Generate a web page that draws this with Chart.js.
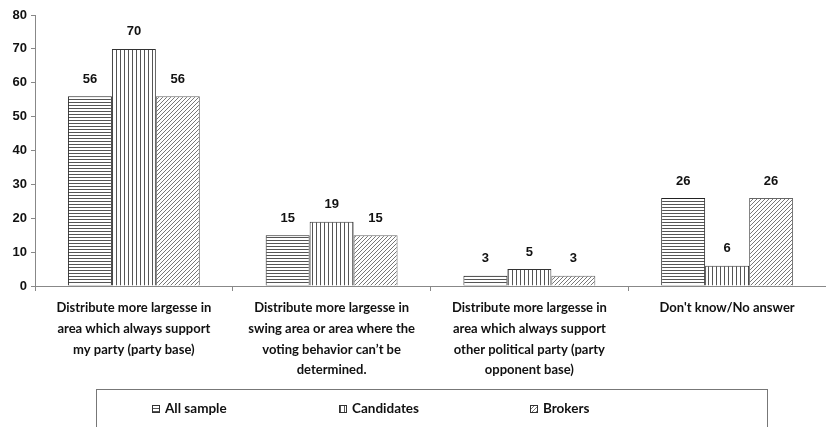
<!DOCTYPE html>
<html>
<head>
<meta charset="utf-8">
<script src="https://cdn.jsdelivr.net/npm/chart.js@4/dist/chart.umd.min.js"></script>
<style>
  html, body { margin: 0; padding: 0; background: #fff; }
  #wrap { width: 826px; height: 427px; position: relative; }
</style>
</head>
<body>
<div id="wrap"><canvas id="c" width="826" height="427"></canvas></div>
<script>
// Answer categories (one line per array entry)
const categories = [
  ["Distribute more largesse in", "area which always support", "my party (party base)"],
  ["Distribute more largesse in", "swing area or area where the", "voting behavior can\u2019t be", "determined."],
  ["Distribute more largesse in", "area which always support", "other political party (party", "opponent base)"],
  ["Don't know/No answer"]
];
const seriesNames = ["All sample", "Candidates", "Brokers"];
const allSample  = [56, 15, 3, 26];
const candidates = [70, 19, 5, 6];
const brokers    = [56, 15, 3, 26];
const yTicks = [0, 10, 20, 30, 40, 50, 60, 70, 80];

// Hatch fills
function makePattern(kind) {
  const t = document.createElement('canvas');
  const ctx = t.getContext('2d');
  if (kind === 'h') {
    t.width = 4; t.height = 3;
    ctx.fillStyle = '#fff'; ctx.fillRect(0, 0, 4, 3);
    ctx.fillStyle = '#555'; ctx.fillRect(0, 0, 4, 1);
  } else if (kind === 'v') {
    t.width = 4; t.height = 4;
    ctx.fillStyle = '#fff'; ctx.fillRect(0, 0, 4, 4);
    ctx.fillStyle = '#555'; ctx.fillRect(0, 0, 1, 4);
  } else {
    t.width = 4; t.height = 4;
    ctx.fillStyle = '#fff'; ctx.fillRect(0, 0, 4, 4);
    ctx.fillStyle = '#777';
    for (let i = 0; i < 4; i++) ctx.fillRect(3 - i, i, 1, 1);
  }
  const main = document.getElementById('c').getContext('2d');
  return main.createPattern(t, 'repeat');
}
const fills = [makePattern('h'), makePattern('v'), makePattern('d')];
const borders = ['#222', '#333', '#666'];

const valueFont = 'bold 13px "Liberation Sans", Arial, sans-serif';
const labelFont = '"Lato", "Open Sans", sans-serif';

// Value labels above each bar
const valueLabels = {
  id: 'valueLabels',
  afterDatasetsDraw(chart) {
    const ctx = chart.ctx;
    ctx.save();
    ctx.font = valueFont;
    ctx.fillStyle = '#111';
    ctx.textAlign = 'center';
    ctx.textBaseline = 'middle';
    chart.data.datasets.forEach((ds, di) => {
      chart.getDatasetMeta(di).data.forEach((bar, i) => {
        ctx.fillText(String(ds.data[i]), bar.x, bar.y - 17);
      });
    });
    ctx.restore();
  }
};

// Boxed legend along the bottom
const boxedLegend = {
  id: 'boxedLegend',
  afterDraw(chart) {
    const ctx = chart.ctx;
    ctx.save();
    ctx.strokeStyle = '#777';
    ctx.lineWidth = 1;
    ctx.strokeRect(96.5, 389.5, 671, 50);
    const itemX = [152, 339, 530];
    ctx.font = 'bold 13.5px ' + labelFont;
    ctx.textBaseline = 'middle';
    ctx.textAlign = 'left';
    chart.data.datasets.forEach((ds, i) => {
      const x = itemX[i], y = 409;
      ctx.fillStyle = fills[i];
      ctx.fillRect(x, y - 4, 8, 8);
      ctx.strokeStyle = '#333';
      ctx.strokeRect(x + 0.5, y - 3.5, 7, 7);
      ctx.fillStyle = '#111';
      ctx.fillText(ds.label, x + 13, y);
    });
    ctx.restore();
  }
};

new Chart(document.getElementById('c'), {
  type: 'bar',
  data: {
    labels: categories,
    datasets: [allSample, candidates, brokers].map((d, i) => ({
      label: seriesNames[i],
      data: d,
      backgroundColor: fills[i],
      borderColor: borders[i],
      borderWidth: 1,
      borderSkipped: 'bottom',
      barPercentage: 1,
      categoryPercentage: 0.667
    }))
  },
  options: {
    responsive: false,
    animation: false,
    layout: { padding: { top: 15, right: 0, left: 0, bottom: 0 } },
    plugins: { legend: { display: false }, tooltip: { enabled: false } },
    scales: {
      x: {
        grid: { display: true, drawOnChartArea: false, offset: true, tickLength: 5, color: '#888' },
        border: { color: '#888' },
        ticks: {
          color: '#111',
          font: { family: labelFont, size: 13, weight: 'bold', lineHeight: 1.58 },
          padding: 7,
          maxRotation: 0,
          autoSkip: false
        },
        afterFit(scale) { scale.height = 141; }
      },
      y: {
        min: 0, max: 80,
        afterBuildTicks(scale) { scale.ticks = yTicks.map(v => ({ value: v })); },
        grid: { display: true, drawOnChartArea: false, tickLength: 4, color: '#888' },
        border: { color: '#888' },
        ticks: {
          color: '#111',
          font: { family: '"Liberation Sans", Arial, sans-serif', size: 13, weight: 'bold' },
          padding: 4
        },
        afterFit(scale) { scale.width = 35; }
      }
    }
  },
  plugins: [valueLabels, boxedLegend]
});
</script>
</body>
</html>
